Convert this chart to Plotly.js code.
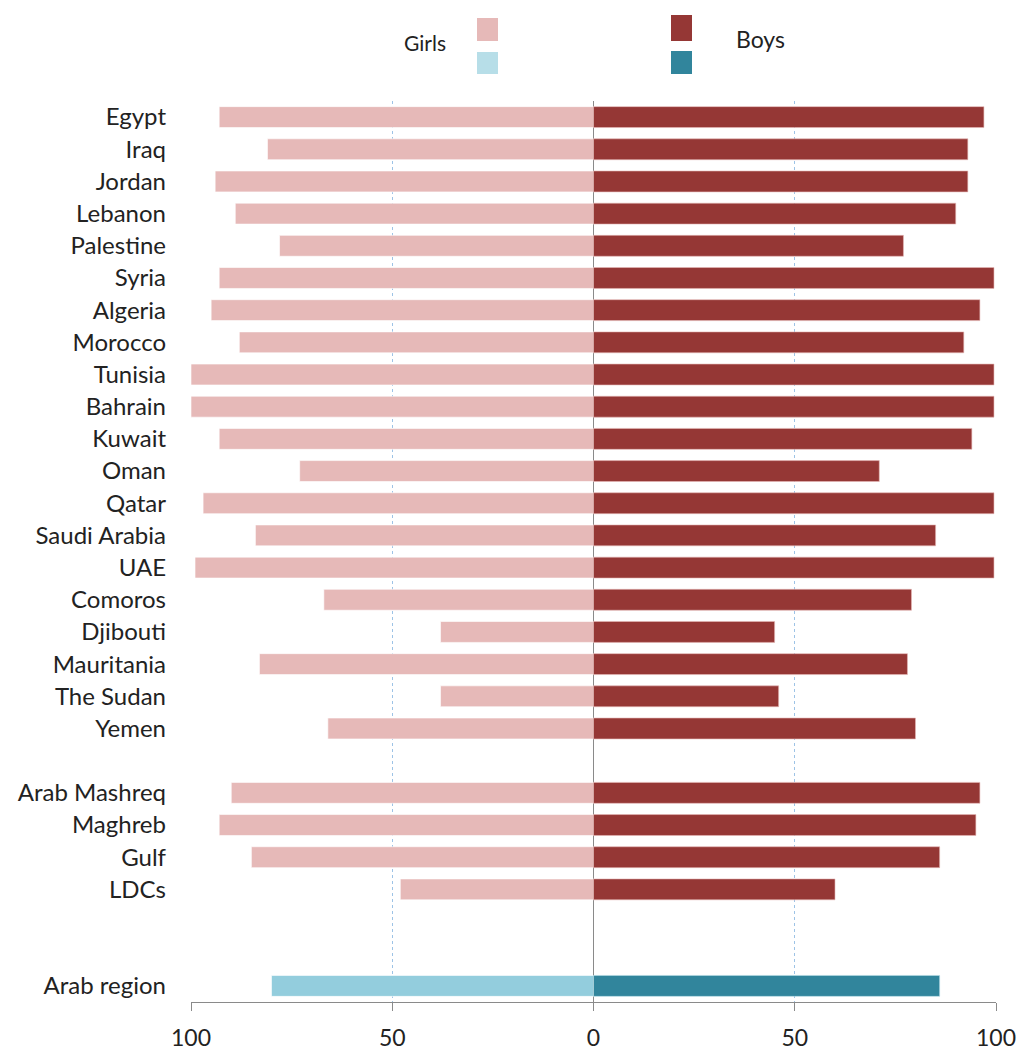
<!DOCTYPE html>
<html>
<head>
<meta charset="utf-8">
<script src="https://cdn.plot.ly/plotly-3.0.1.min.js"></script>
<style>html,body{margin:0;padding:0;background:#fff;}#chart{width:1019px;height:1055px;}</style>
</head>
<body>
<div id="chart"></div>
<script>
// ---- Data ----
const countries = ["Egypt","Iraq","Jordan","Lebanon","Palestine","Syria","Algeria","Morocco","Tunisia","Bahrain","Kuwait","Oman","Qatar","Saudi Arabia","UAE","Comoros","Djibouti","Mauritania","The Sudan","Yemen"];
const girlsCountries = [93,81,94,89,78,93,95,88,100,100,93,73,97,84,99,67,38,83,38,66];
const boysCountries  = [97,93,93,90,77,99.5,96,92,99.5,99.5,94,71,99.5,85,99.5,79,45,78,46,80];

const groups = ["Arab Mashreq","Maghreb","Gulf","LDCs"];
const girlsGroups = [90,93,85,48];
const boysGroups  = [96,95,86,60];

const regionLabel = ["Arab region"];
const girlsRegion = [80];
const boysRegion  = [86];

const spacers = [" ","  ","   "];
const categoryOrder = [...countries, spacers[0], ...groups, spacers[1], spacers[2], ...regionLabel];

const tickVals = [-100,-50,0,50,100];
const tickText = ["100","50","0","50","100"];

// ---- Styles ----
const PINK = "#E6B9B8", DARKRED = "#953735", LIGHTBLUE = "#93CDDD", LEGBLUE = "#B7DEE8", TEAL = "#31859C";
const FONT = "Lato, 'Open Sans', sans-serif";
const TXT = "#222222";

const cats = [...countries, ...groups];
const traces = [
  {type:"bar", orientation:"h", y:cats, x:[...girlsCountries, ...girlsGroups].map(v=>-v),
   marker:{color:PINK, line:{color:"rgba(255,255,255,0.6)", width:1}}, showlegend:false, hoverinfo:"skip"},
  {type:"bar", orientation:"h", y:cats, x:[...boysCountries, ...boysGroups],
   marker:{color:DARKRED, line:{color:"rgba(230,185,184,0.6)", width:1}}, showlegend:false, hoverinfo:"skip"},
  {type:"bar", orientation:"h", y:regionLabel, x:girlsRegion.map(v=>-v),
   marker:{color:LIGHTBLUE, line:{color:"rgba(255,255,255,0.6)", width:1}}, showlegend:false, hoverinfo:"skip"},
  {type:"bar", orientation:"h", y:regionLabel, x:boysRegion,
   marker:{color:TEAL, line:{color:"rgba(183,222,232,0.6)", width:1}}, showlegend:false, hoverinfo:"skip"}
];

// plot area geometry (pixels)
const W = 1019, H = 1055;
const mL = 191, mR = 23, mT = 101, mB = 53;
const pw = W - mL - mR, ph = H - mT - mB;
const px = x => (x - mL) / pw;
const py = y => (H - mB - y) / ph;

const legendSquares = [
  {x0:477, x1:498, y0:18, y1:41, c:PINK},
  {x0:477, x1:498, y0:52, y1:74, c:LEGBLUE},
  {x0:671, x1:692, y0:15, y1:41, c:DARKRED},
  {x0:671, x1:692, y0:51, y1:74, c:TEAL}
];
const shapes = legendSquares.map(s => ({type:"rect", xref:"paper", yref:"paper",
  x0:px(s.x0), x1:px(s.x1), y0:py(s.y1), y1:py(s.y0), fillcolor:s.c, line:{width:0}}));

const annotations = [
  {text:"Girls", xref:"paper", yref:"paper", x:px(425), y:py(43), xanchor:"center", yanchor:"middle", showarrow:false, font:{family:FONT, size:21, color:TXT}},
  {text:"Boys", xref:"paper", yref:"paper", x:px(760), y:py(39), xanchor:"center", yanchor:"middle", showarrow:false, font:{family:FONT, size:23, color:TXT}}
];

const layout = {
  width:W, height:H,
  margin:{l:mL, r:mR, t:mT, b:mB, pad:0},
  paper_bgcolor:"#fff", plot_bgcolor:"#fff",
  barmode:"overlay", bargap:0.35,
  font:{family:FONT, color:TXT},
  showlegend:false,
  xaxis:{range:[-100,100], tickvals:tickVals, ticktext:tickText, tickfont:{size:23, family:FONT, color:TXT},
    showgrid:true, gridcolor:"#9DC3E6", griddash:"dot", gridwidth:1,
    zeroline:true, zerolinecolor:"#8a8a8a", zerolinewidth:1,
    showline:true, linecolor:"#8a8a8a", linewidth:1,
    ticks:"outside", ticklen:8, tickcolor:"#8a8a8a", ticklabelstandoff:7, fixedrange:true},
  yaxis:{type:"category", categoryorder:"array", categoryarray:categoryOrder, autorange:"reversed",
    range:[categoryOrder.length-0.5, -0.5],
    tickfont:{size:24, family:FONT, color:TXT}, ticks:"", showgrid:false, zeroline:false, showline:false,
    ticklabelstandoff:24, fixedrange:true},
  shapes:shapes, annotations:annotations
};

Plotly.newPlot("chart", traces, layout, {displayModeBar:false, staticPlot:true});
</script>
</body>
</html>
